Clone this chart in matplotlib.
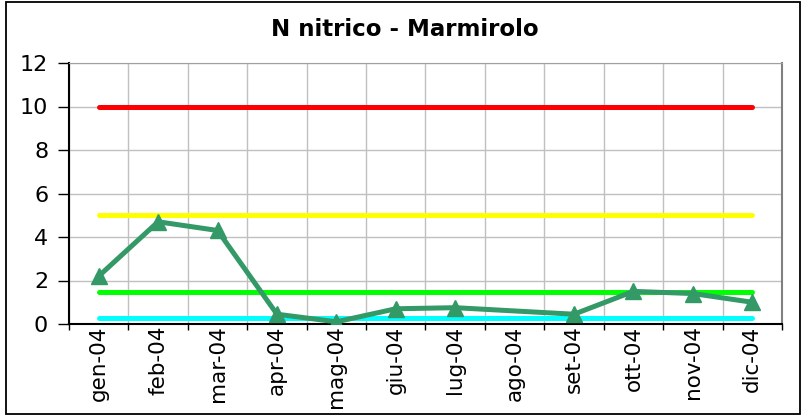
import numpy as np
import matplotlib
matplotlib.use("Agg")
import matplotlib.pyplot as plt
from matplotlib.patches import Rectangle

months = ["gen-04", "feb-04", "mar-04", "apr-04", "mag-04", "giu-04",
          "lug-04", "ago-04", "set-04", "ott-04", "nov-04", "dic-04"]
n_nitrico = [2.2, 4.7, 4.3, 0.45, 0.1, 0.7, 0.75, np.nan, 0.45, 1.5, 1.4, 1.0]

# soglie orizzontali
limits = [10, 5, 1.45, 0.26]
limit_colors = ["#FF0000", "#FFFF00", "#00FF00", "#00FFFF"]

plt.rcParams["font.family"] = ["DejaVu Sans"]

fig = plt.figure(figsize=(8.06, 4.16), dpi=100)
ax = fig.add_axes([69 / 806, 1 - 324 / 416, (782 - 69) / 806, (324 - 63) / 416])

x = np.arange(len(months))
for val, col in zip(limits, limit_colors):
    ax.plot([x[0], x[-1]], [val, val], color=col, lw=3.6,
            solid_capstyle="round", zorder=2)

y = np.array(n_nitrico, dtype=float)
ok = ~np.isnan(y)
ax.plot(x[ok], y[ok], color="#339966", lw=3.6, marker="^", markersize=11,
        solid_joinstyle="round", zorder=3)

ax.set_xlim(-0.5, len(months) - 0.5)
ax.set_ylim(0, 12)
ax.set_yticks(np.arange(0, 13, 2))
ax.set_xticks(np.arange(-0.5, len(months), 1))
ax.set_xticklabels([])
ax.set_xticks(x, minor=True)
ax.set_xticklabels(months, minor=True, rotation=90, fontsize=15.5, va="top")
ax.tick_params(axis="x", which="minor", length=0, pad=1)
ax.tick_params(axis="x", which="major", direction="out", length=4.5,
               width=1, color="black")
ax.tick_params(axis="y", direction="out", length=8, width=1, pad=7,
               labelsize=16)

ax.grid(True, which="major", color="#C0C0C0", lw=1)
ax.set_axisbelow(True)
for side in ["left", "bottom"]:
    ax.spines[side].set_color("black")
    ax.spines[side].set_linewidth(1.5)
ax.spines["top"].set_color("#A0A0A0")
ax.spines["right"].set_color("#808080")
ax.spines["right"].set_linewidth(1.5)

fig.text(405 / 806, 1 - 30 / 416, "N nitrico - Marmirolo", ha="center",
         va="center", fontsize=16.5, fontweight="bold")

fig.patches.append(Rectangle((6 / 806, 2 / 416), 794 / 806, 412 / 416,
                             transform=fig.transFigure, fill=False,
                             edgecolor="black", lw=1.3))

fig.savefig("out.png", dpi=100)
